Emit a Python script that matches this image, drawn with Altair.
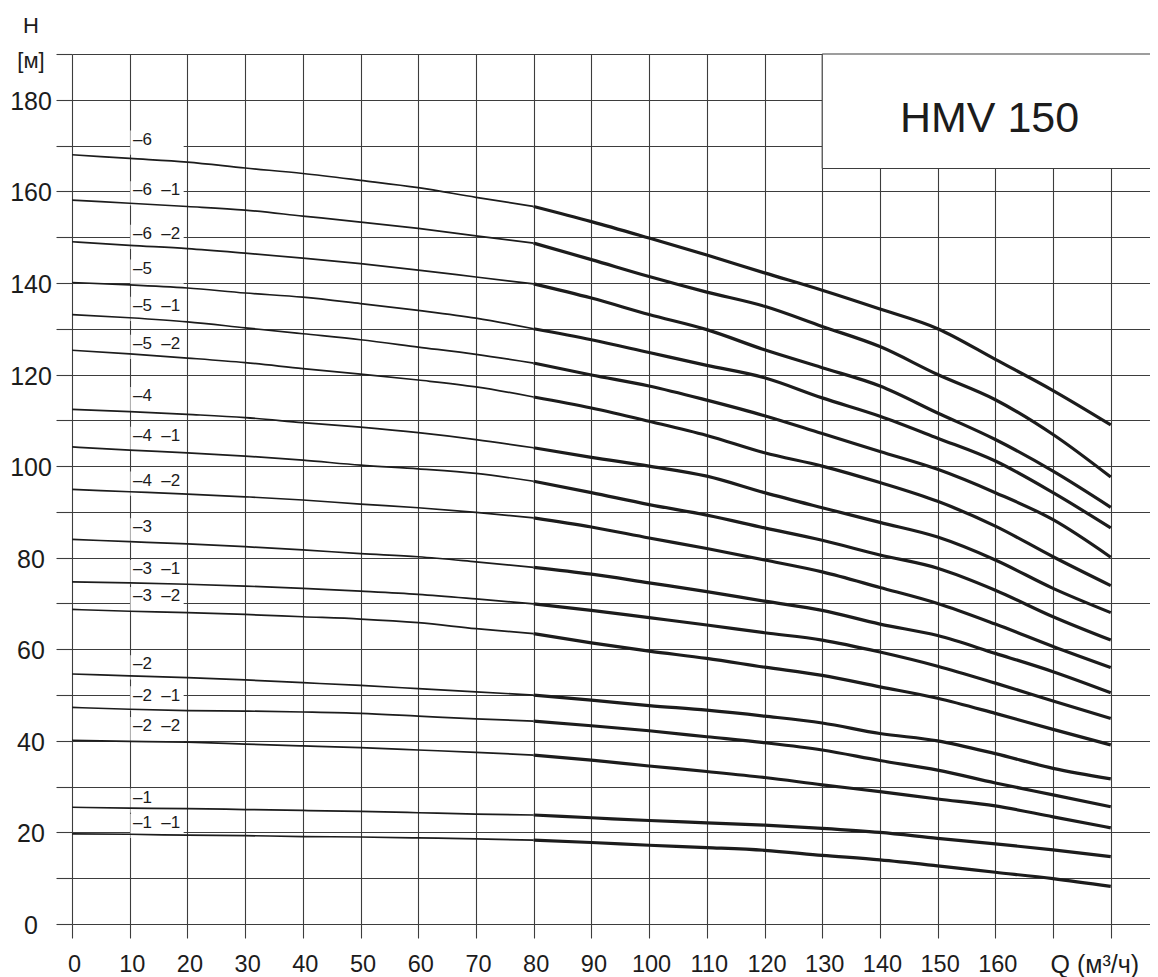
import altair as alt
import pandas as pd

# Flow rate grid (m3/h)
Q = [0, 10, 20, 30, 40, 50, 60, 70, 80, 90, 100, 110, 120, 130, 140, 150, 160, 170, 180]

# Head curves (m), top to bottom
H_6   = [168.0, 167.2, 166.4, 165.1, 163.9, 162.4, 160.8, 158.7, 156.7, 153.4, 149.8, 146.1, 142.2, 138.4, 134.3, 130.0, 123.3, 116.5, 109.0]
H_6_1 = [158.1, 157.4, 156.7, 155.9, 154.6, 153.3, 151.9, 150.3, 148.7, 145.1, 141.4, 138.0, 134.9, 130.5, 126.1, 120.0, 114.5, 106.9, 97.6]
H_6_2 = [149.0, 148.2, 147.5, 146.5, 145.4, 144.2, 142.8, 141.3, 139.8, 136.7, 133.1, 129.8, 125.4, 121.5, 117.5, 111.6, 105.8, 98.9, 91.0]
H_5   = [140.1, 139.6, 138.9, 137.8, 136.9, 135.5, 134.0, 132.3, 130.0, 127.6, 124.8, 122.0, 119.3, 114.9, 110.9, 106.1, 101.1, 94.2, 86.5]
H_5_1 = [133.1, 132.4, 131.5, 130.2, 128.9, 127.6, 126.0, 124.4, 122.5, 119.9, 117.5, 114.4, 111.0, 107.1, 103.2, 99.3, 94.2, 88.3, 80.1]
H_5_2 = [125.3, 124.5, 123.6, 122.6, 121.3, 120.1, 118.8, 117.3, 115.1, 112.7, 109.8, 106.7, 102.9, 100.0, 96.4, 92.3, 86.9, 80.2, 73.9]
H_4   = [112.4, 111.9, 111.3, 110.6, 109.5, 108.5, 107.3, 105.8, 104.0, 101.9, 100.0, 97.8, 94.2, 90.9, 87.7, 84.5, 79.5, 73.3, 68.0]
H_4_1 = [104.2, 103.5, 102.9, 102.2, 101.3, 100.2, 99.4, 98.4, 96.7, 94.2, 91.6, 89.3, 86.5, 83.8, 80.6, 77.7, 72.9, 67.1, 62.0]
H_4_2 = [94.9, 94.4, 93.9, 93.3, 92.6, 91.7, 90.9, 89.9, 88.7, 86.7, 84.3, 82.0, 79.5, 76.9, 73.5, 70.0, 65.5, 60.6, 56.0]
H_3   = [84.0, 83.5, 83.0, 82.4, 81.7, 80.9, 80.2, 79.1, 77.9, 76.4, 74.5, 72.6, 70.5, 68.5, 65.5, 63.0, 59.1, 55.1, 50.5]
H_3_1 = [74.7, 74.5, 74.2, 73.8, 73.3, 72.7, 72.0, 71.0, 69.9, 68.5, 66.9, 65.3, 63.6, 62.0, 59.4, 56.3, 52.6, 48.7, 44.9]
H_3_2 = [68.7, 68.3, 68.0, 67.6, 67.1, 66.6, 65.8, 64.5, 63.4, 61.4, 59.6, 58.0, 56.1, 54.3, 51.8, 49.3, 46.0, 42.5, 39.1]
H_2   = [54.6, 54.2, 53.8, 53.3, 52.7, 52.1, 51.4, 50.7, 50.0, 48.9, 47.7, 46.7, 45.4, 43.9, 41.6, 40.0, 37.2, 34.0, 31.7]
H_2_1 = [47.3, 46.9, 46.6, 46.5, 46.3, 46.0, 45.4, 44.8, 44.3, 43.3, 42.2, 40.9, 39.6, 38.0, 35.7, 33.6, 30.8, 28.2, 25.6]
H_2_2 = [40.1, 39.9, 39.7, 39.3, 38.9, 38.5, 38.0, 37.5, 36.9, 35.8, 34.5, 33.3, 32.0, 30.4, 28.9, 27.3, 25.8, 23.4, 21.0]
H_1   = [25.5, 25.3, 25.2, 25.0, 24.8, 24.6, 24.3, 24.0, 23.8, 23.2, 22.6, 22.1, 21.6, 20.9, 20.0, 18.7, 17.5, 16.2, 14.7]
H_1_1 = [19.7, 19.6, 19.4, 19.3, 19.1, 19.0, 18.8, 18.6, 18.3, 17.8, 17.2, 16.7, 16.1, 15.0, 14.0, 12.7, 11.3, 9.9, 8.2]

NB = "\u00a0\u00a0"
CURVE_NAMES = ["–6", "–6" + NB + "–1", "–6" + NB + "–2",
               "–5", "–5" + NB + "–1", "–5" + NB + "–2",
               "–4", "–4" + NB + "–1", "–4" + NB + "–2",
               "–3", "–3" + NB + "–1", "–3" + NB + "–2",
               "–2", "–2" + NB + "–1", "–2" + NB + "–2",
               "–1", "–1" + NB + "–1"]
CURVES = [H_6, H_6_1, H_6_2, H_5, H_5_1, H_5_2, H_4, H_4_1, H_4_2,
          H_3, H_3_1, H_3_2, H_2, H_2_1, H_2_2, H_1, H_1_1]

# Label anchor heads (m)
LABEL_H = [171.3, 160.2, 150.7, 143.1, 135.0, 126.7, 115.3, 106.6, 96.8,
           86.6, 77.5, 71.6, 56.7, 49.9, 43.2, 27.6, 22.1]

TITLE = "HMV 150"

rows = []
for name, hs in zip(CURVE_NAMES, CURVES):
    for q, h in zip(Q, hs):
        rows.append({"curve": name, "q": q, "h": h})
df = pd.DataFrame(rows)
thin = df[df.q <= 80]
thick = df[df.q >= 80]

lab = pd.DataFrame({"label": CURVE_NAMES, "h": LABEL_H})
lab["lo"] = lab["h"] - 3.3
lab["hi"] = lab["h"] + 2.0
lab["x0"] = 10.12
lab["x1"] = 19.35
lab["xt"] = 10.57

XMAX = 186.8
GRID = "#3d3d3d"
INK = "#1c1c1c"
FONT = "Liberation Sans"

xscale = alt.Scale(domain=[0, XMAX], nice=False, zero=False)
yscale = alt.Scale(domain=[0, 190], nice=False, zero=False)

xaxis = alt.Axis(values=list(range(0, 181, 10)),
                 labelExpr="datum.value <= 160 ? datum.label : ''",
                 tickSize=14, labelPadding=33, labelBaseline="alphabetic",
                 labelFontSize=23.5, labelOffset=2, labelFlush=False, labelOverlap=False,
                 grid=True, domain=False,
                 title="Q (м³/ч)", titleX=978, titleY=48, titleAlign="left",
                 titleBaseline="alphabetic", titleFontSize=25, titleFontWeight="normal")
yaxis = alt.Axis(values=list(range(0, 191, 10)),
                 labelExpr="(datum.value % 20 == 0 && datum.value <= 180) ? datum.label : ''",
                 tickSize=16, labelPadding=25.5, labelAlign="center", labelBaseline="middle",
                 labelFontSize=25, labelOffset=1.5, labelFlush=False, labelOverlap=False,
                 grid=True, domain=False,
                 title=["H", "[м]"], titleAngle=0, titleX=-41.5, titleY=-21.7,
                 titleAlign="center", titleBaseline="alphabetic", titleFontSize=22,
                 titleLineHeight=35, titleFontWeight="normal")


def X(f):
    return alt.X(f, type="quantitative", scale=xscale, axis=xaxis)


def Y(f):
    return alt.Y(f, type="quantitative", scale=yscale, axis=yaxis)


# white boxes behind curve labels
boxes = alt.Chart(lab).mark_rect(color="white").encode(
    x=X("x0"), x2="x1", y=Y("lo"), y2="hi")

# title box
tb = pd.DataFrame({"x0": [130], "x1": [XMAX], "y0": [165], "y1": [190], "xc": [159], "yc": [173], "t": [TITLE]})
title_box = alt.Chart(tb).mark_rect(color="white").encode(
    x=X("x0"), x2="x1", y=Y("y0"), y2="y1")
edge_v = alt.Chart(tb).mark_rule(color=GRID, strokeWidth=1.1).encode(
    x=X("x0"), y=Y("y0"), y2="y1")
edge_b = alt.Chart(tb).mark_rule(color=GRID, strokeWidth=1.1).encode(
    x=X("x0"), x2="x1", y=Y("y0"))
edge_t = alt.Chart(tb).mark_rule(color=GRID, strokeWidth=1.1).encode(
    x=X("x0"), x2="x1", y=Y("y1"))
title_text = alt.Chart(tb).mark_text(fontSize=43, font=FONT, color=INK,
                                     align="center", baseline="alphabetic").encode(
    x=X("xc"), y=Y("yc"), text="t")

thin_lines = alt.Chart(thin).mark_line(color=INK, strokeWidth=1.7, interpolate="monotone").encode(
    x=X("q"), y=Y("h"), detail="curve")
thick_lines = alt.Chart(thick).mark_line(color=INK, strokeWidth=3.2, interpolate="monotone",
                                         strokeCap="butt").encode(
    x=X("q"), y=Y("h"), detail="curve")

labels = alt.Chart(lab).mark_text(fontSize=17, font=FONT, color=INK,
                                  align="left", baseline="middle").encode(
    x=X("xt"), y=Y("h"), text="label")

chart = alt.layer(boxes, title_box, edge_v, edge_b, edge_t, thin_lines, thick_lines,
                  labels, title_text).properties(
    width=1078, height=870,
    padding={"left": 64, "top": 46, "right": 0, "bottom": 60},
    autosize=alt.AutoSizeParams(type="none"),
    background="white",
).configure_view(strokeWidth=0).configure_axis(
    gridColor=GRID, gridWidth=1.1, gridOpacity=1, tickColor=GRID, tickWidth=1.1,
    labelColor=INK, titleColor=INK, labelFont=FONT, titleFont=FONT,
).configure_text(font=FONT)

chart.save("out.html", embed_options={"renderer": "svg", "actions": False})
